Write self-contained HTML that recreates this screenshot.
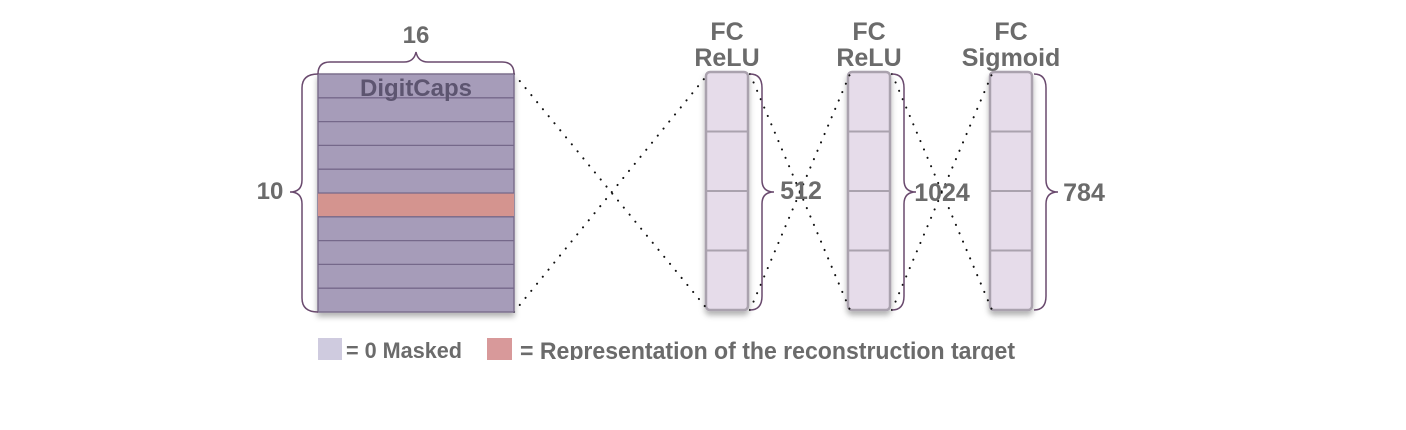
<!DOCTYPE html>
<html><head><meta charset="utf-8"><style>
html,body{margin:0;padding:0;background:#fff;}
svg{display:block;}
text{font-family:"Liberation Sans",sans-serif;font-weight:bold;fill:#6b6b6b;}
</style></head><body>
<svg width="1406" height="430" viewBox="0 0 1406 430">
<defs>
<filter id="sh" x="-20%" y="-10%" width="140%" height="130%"><feDropShadow dx="0" dy="4" stdDeviation="3" flood-color="#000" flood-opacity="0.3"/></filter>
<clipPath id="legclip"><rect x="0" y="0" width="1406" height="360"/></clipPath>
</defs>
<g id="dots" stroke="#111" stroke-width="2" stroke-dasharray="0.1 9" stroke-linecap="round" fill="none">
<line x1="514" y1="74" x2="708" y2="310"/><line x1="514" y1="312" x2="708" y2="74"/>
<line x1="750" y1="74" x2="850" y2="310"/><line x1="750" y1="310" x2="850" y2="74"/>
<line x1="892" y1="74" x2="992" y2="310"/><line x1="892" y1="310" x2="992" y2="74"/>
</g>
<g filter="url(#sh)">
<rect x="318" y="74" width="196" height="238" fill="#a69cb9" stroke="#7c6f8d" stroke-width="1.5"/>
<rect x="318" y="193" width="196" height="23.8" fill="#d4948f"/>
</g>
<g id="rows" stroke="#75688a" stroke-width="1.3"></g>
<text x="416" y="96" text-anchor="middle" font-size="24" style="fill:#5d5570">DigitCaps</text>
<g id="cols"></g>
<g fill="none" stroke="#6a4a6e" stroke-width="1.5">
<path d="M318 74 Q318 62 330 62 L404 62 Q414 62 416 52 Q418 62 428 62 L502 62 Q514 62 514 74"/>
<path d="M318 74 Q302 74 302 88 L302 180 Q302 192 290 192 Q302 192 302 204 L302 298 Q302 312 318 312"/>
<path d="M750 74 Q762 74 762 88 L762 180 Q762 192 774 192 Q762 192 762 204 L762 296 Q762 310 750 310"/>
<path d="M892 74 Q904 74 904 88 L904 180 Q904 192 916 192 Q904 192 904 204 L904 296 Q904 310 892 310"/>
<path d="M1034 74 Q1046 74 1046 88 L1046 180 Q1046 192 1058 192 Q1046 192 1046 204 L1046 296 Q1046 310 1034 310"/>
</g>
<text x="416" y="43" text-anchor="middle" font-size="24">16</text>
<text x="270" y="199" text-anchor="middle" font-size="24">10</text>
<text x="801" y="199" text-anchor="middle" font-size="25">512</text>
<text x="942" y="201" text-anchor="middle" font-size="25">1024</text>
<text x="1084" y="201" text-anchor="middle" font-size="25">784</text>
<text x="727" y="40" text-anchor="middle" font-size="25">FC</text>
<text x="727" y="66" text-anchor="middle" font-size="25">ReLU</text>
<text x="869" y="40" text-anchor="middle" font-size="25">FC</text>
<text x="869" y="66" text-anchor="middle" font-size="25">ReLU</text>
<text x="1011" y="40" text-anchor="middle" font-size="25">FC</text>
<text x="1011" y="66" text-anchor="middle" font-size="25">Sigmoid</text>
<g clip-path="url(#legclip)">
<rect x="318" y="338" width="24" height="24" fill="#cfcbdf"/>
<text x="346" y="358" font-size="22" textLength="116" lengthAdjust="spacingAndGlyphs">= 0 Masked</text>
<rect x="487" y="338" width="25" height="24" fill="#d8999a"/>
<text x="520" y="359" font-size="24" textLength="495" lengthAdjust="spacingAndGlyphs">= Representation of the reconstruction target</text>
</g>
</svg>
<script>
const rowCount = 10;
const colX = [706, 848, 990];
const ns = "http://www.w3.org/2000/svg";
const rows = document.getElementById('rows');
for (let i = 1; i < rowCount; i++) {
  const y = 74 + i * 238 / rowCount;
  const l = document.createElementNS(ns, 'line');
  l.setAttribute('x1', 318); l.setAttribute('x2', 514);
  l.setAttribute('y1', y); l.setAttribute('y2', y);
  
  
  rows.appendChild(l);
}
const cols = document.getElementById('cols');
colX.forEach((x, k) => {
  const g = document.createElementNS(ns, 'g');
  
  
  const r = document.createElementNS(ns, 'rect');
  r.setAttribute('x', x); r.setAttribute('y', 72); r.setAttribute('width', 42); r.setAttribute('height', 238);
  r.setAttribute('rx', 4); r.setAttribute('fill', '#e6dcea'); r.setAttribute('stroke', '#aaa2ae'); r.setAttribute('stroke-width', 2.5);
  r.setAttribute('filter', 'url(#sh)');
  g.appendChild(r);
  for (let j = 1; j < 4; j++) {
    const y = 72 + j * 238 / 4;
    const l = document.createElementNS(ns, 'line');
    l.setAttribute('x1', x); l.setAttribute('x2', x + 42); l.setAttribute('y1', y); l.setAttribute('y2', y);
    l.setAttribute('stroke', '#aaa2ae'); l.setAttribute('stroke-width', 2);
    g.appendChild(l);
  }
  cols.appendChild(g);
});
document.querySelector('svg').insertBefore(cols, document.getElementById('dots'));
</script>
</body></html>
